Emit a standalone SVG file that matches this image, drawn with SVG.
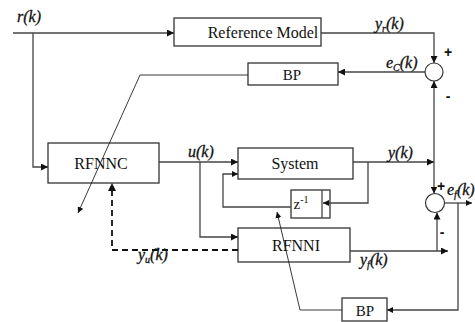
<svg xmlns="http://www.w3.org/2000/svg" width="475" height="322" viewBox="0 0 475 322">
<style>
.box{fill:#fff;stroke:#333;stroke-width:1.3}
.ln{fill:none;stroke:#444;stroke-width:1.3}
.thin{fill:none;stroke:#222;stroke-width:0.9}
.dash{fill:none;stroke:#111;stroke-width:1.8;stroke-dasharray:6 4}
.t{font-family:"Liberation Serif",serif;font-size:16px;fill:#111;text-anchor:middle}
.l{font-family:"Liberation Serif","DejaVu Serif",serif;font-size:16px;fill:#111;stroke:#111;stroke-width:0.3}
.s{font-size:10px}
.sg{font-family:"Liberation Sans",sans-serif;font-size:14px;font-weight:bold;fill:#111;text-anchor:middle}
</style>
<defs>
<marker id="ar" viewBox="0 0 10 10" refX="10" refY="5" markerWidth="7" markerHeight="7" markerUnits="userSpaceOnUse" orient="auto"><path d="M0,0 L10,5 L0,10 z" fill="#111"/></marker>
<marker id="as" viewBox="0 0 10 10" refX="10" refY="5" markerWidth="6" markerHeight="6" markerUnits="userSpaceOnUse" orient="auto"><path d="M0,0 L10,5 L0,10 z" fill="#111"/></marker>
</defs>
<g id="refmodel"><rect class="box" x="174" y="18" width="147" height="28"/><text class="t" x="263" y="38">Reference Model</text></g>
<g id="bp1"><rect class="box" x="248" y="63" width="90" height="22"/><text class="t" x="292" y="80" style="font-size:15px">BP</text></g>
<g id="rfnnc"><rect class="box" x="48" y="143" width="111" height="40"/><text class="t" x="101" y="169">RFNNC</text></g>
<g id="system"><rect class="box" x="238" y="148" width="115" height="31"/><text class="t" x="295" y="169">System</text></g>
<g id="delay"><rect class="box" x="291" y="190" width="39" height="28"/><line class="ln" x1="322" y1="190" x2="322" y2="218"/><text class="t" x="301" y="209" style="font-size:15px">z<tspan dy="-6" style="font-size:10px">-1</tspan></text></g>
<g id="rfnni"><rect class="box" x="238" y="228" width="112" height="34"/><text class="t" x="296" y="251">RFNNI</text></g>
<g id="bp2"><rect class="box" x="342" y="298" width="45" height="23"/><text class="t" x="365" y="316" style="font-size:15px">BP</text></g>
<g id="sum1"><circle cx="434" cy="72" r="9" fill="#fff" stroke="#333" stroke-width="1.2"/><text class="sg" x="448" y="57">+</text><text class="sg" x="448" y="101">-</text></g>
<g id="sum2"><circle cx="435" cy="203" r="9.5" fill="#fff" stroke="#333" stroke-width="1.2"/><text class="sg" x="441" y="191">+</text><text class="sg" x="442" y="237">-</text></g>
<g id="connectors">
<path class="ln" d="M13,33 H174" marker-end="url(#ar)"/>
<path class="ln" d="M33,33 V167 H48" marker-end="url(#ar)"/>
<path class="ln" d="M321,33 H434 V63" marker-end="url(#ar)"/>
<path class="ln" d="M425,72 H338" marker-end="url(#ar)"/>
<path class="thin" d="M248,75 H140 L78,213" marker-end="url(#as)"/>
<path class="ln" d="M159,162 H238" marker-end="url(#ar)"/>
<path class="ln" d="M200,162 V237 H238" marker-end="url(#ar)"/>
<path class="ln" d="M353,162 H434" marker-end="url(#ar)"/>
<path class="ln" d="M434,162 V81" marker-end="url(#ar)"/>
<path class="ln" d="M434,162 V193.5" marker-end="url(#ar)"/>
<path class="ln" d="M368,162 V203 H323" marker-end="url(#as)"/>
<path class="ln" d="M291,207 H223 V174 H238" marker-end="url(#as)"/>
<path class="ln" d="M444.5,203 H472" marker-end="url(#as)"/>
<path class="ln" d="M458,203 V310 H387" marker-end="url(#as)"/>
<path class="thin" d="M342,310 H300 L277,212" marker-end="url(#as)"/>
<path class="ln" d="M350,251 H448" marker-end="url(#ar)"/>
<path class="ln" d="M437,251 V212.5" marker-end="url(#ar)"/>
<path class="dash" d="M238,250 H112 V185"/>
<path d="M108,191 L112,183 L116,191 z" fill="#111"/>
</g>
<g id="labels" font-style="italic">
<text class="l" x="17" y="22" font-style="italic">r(k)</text>
<text class="l" x="375" y="29" font-style="italic">y<tspan class="s" dy="3">r</tspan><tspan dy="-3">(k)</tspan></text>
<text class="l" x="386" y="68" font-style="italic">e<tspan class="s" dy="3">C</tspan><tspan dy="-3">(k)</tspan></text>
<text class="l" x="188" y="157" font-style="italic">u(k)</text>
<text class="l" x="388" y="158" font-style="italic">y(k)</text>
<text class="l" x="447" y="195" font-style="italic">e<tspan class="s" dy="3">f</tspan><tspan dy="-3">(k)</tspan></text>
<text class="l" x="360" y="265" font-style="italic">y<tspan class="s" dy="3">f</tspan><tspan dy="-3">(k)</tspan></text>
<text class="l" x="138" y="260" font-style="italic">y<tspan class="s" dy="3">u</tspan><tspan dy="-3">(k)</tspan></text>
</g>
</svg>
